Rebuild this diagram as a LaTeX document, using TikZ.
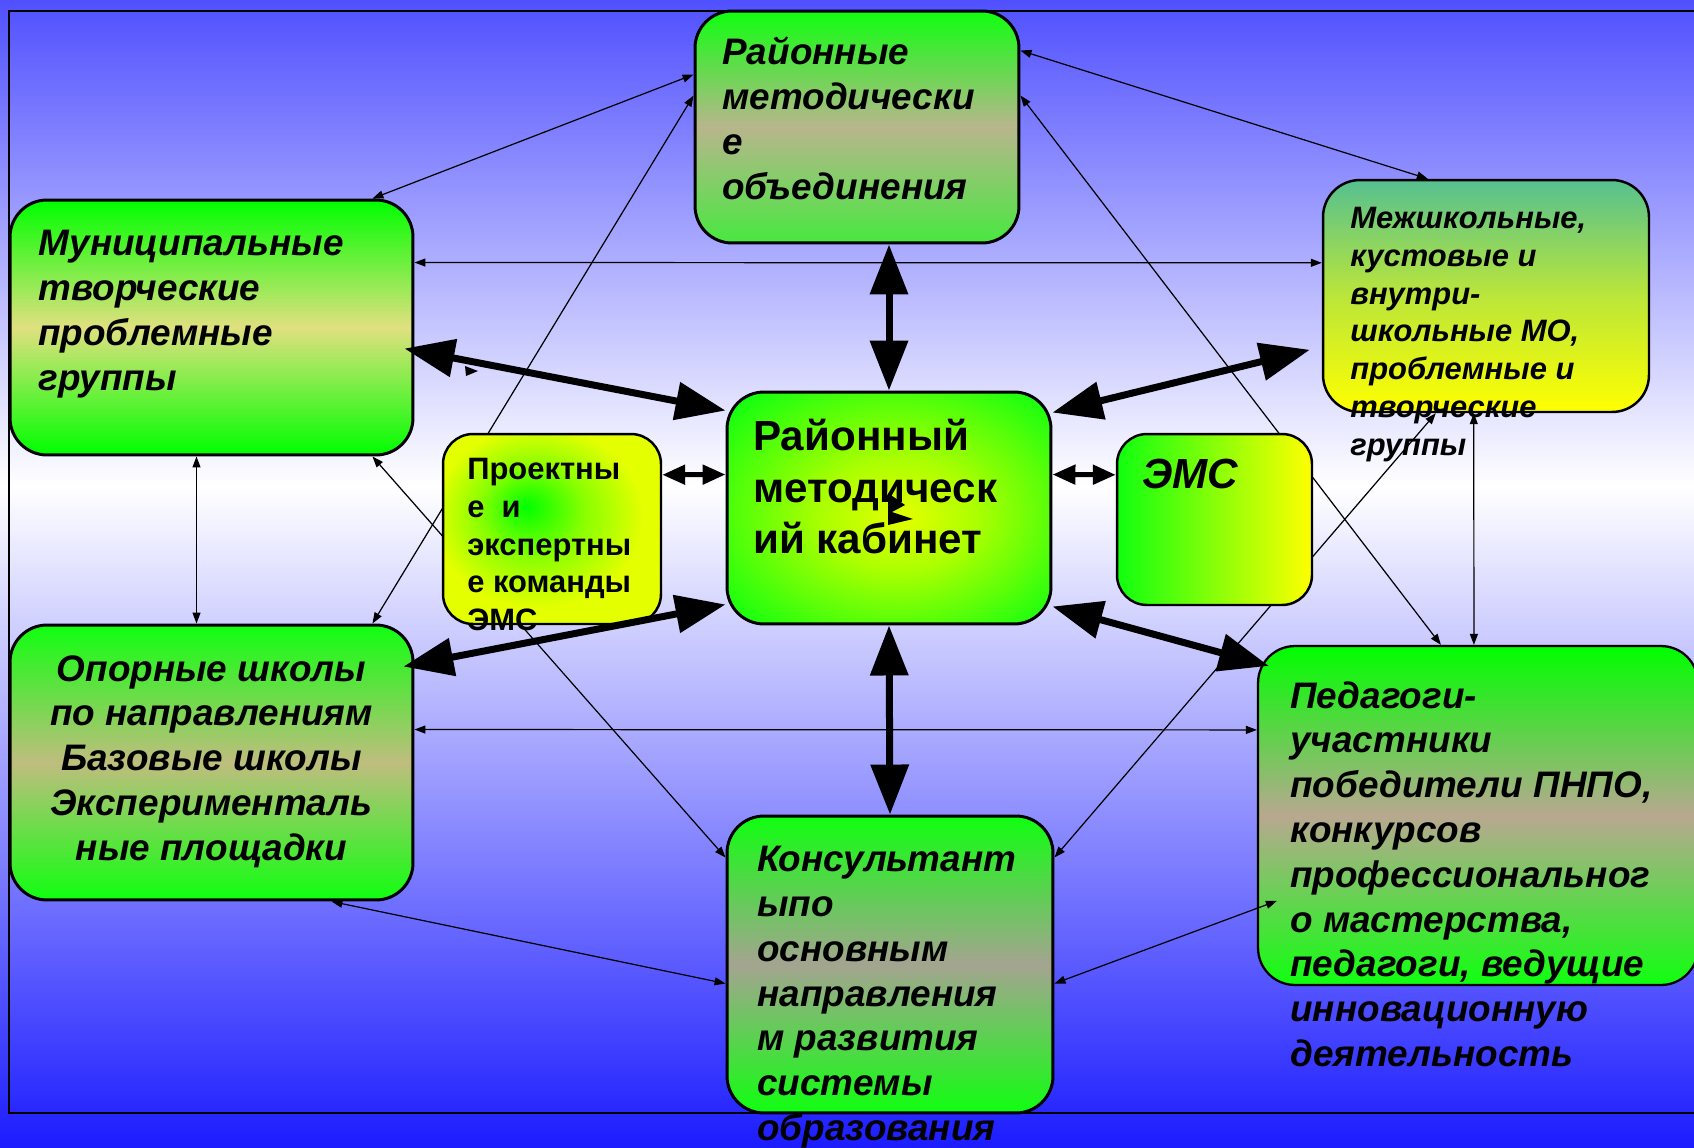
\documentclass[tikz,border=0pt]{standalone}
\usepackage{fontspec}
\setmainfont{Liberation Sans}
\usetikzlibrary{arrows.meta,calc}
\definecolor{bgtop}{HTML}{5050FF}
\definecolor{bgbot}{HTML}{1C1CFF}
\definecolor{brgreen}{HTML}{10FF10}
\definecolor{tanmid}{HTML}{B8B68C}
\definecolor{yelmid}{HTML}{E0E080}
\definecolor{graymid}{HTML}{A4A490}
\definecolor{pedmid}{HTML}{B8A890}
\definecolor{teal}{HTML}{55C090}
\definecolor{lemon}{HTML}{E4FF00}
\definecolor{dimgreen}{HTML}{48E840}
\pgfdeclareradialshading{rmkshade}{\pgfpoint{2bp}{-2bp}}{color(0bp)=(lemon); color(12bp)=(lemon!75!green); color(34bp)=(brgreen); color(50bp)=(brgreen)}
\pgfdeclareradialshading{projshade}{\pgfpoint{-6bp}{6bp}}{color(0bp)=(green); color(12bp)=(lemon!60!green); color(24bp)=(lemon); color(50bp)=(lemon)}
\tikzset{
  box/.style={draw, line width=1.7pt, rounded corners=0.74cm, inner sep=0pt},
  smallbox/.style={draw, line width=1.4pt, rounded corners=0.6cm, inner sep=0pt},
  txt/.style={anchor=north west, inner sep=0pt, align=left,
    font=\fontsize{21}{25.5}\selectfont\bfseries\itshape},
  smalltxt/.style={anchor=north west, inner sep=0pt, align=left,
    font=\fontsize{17.6}{21.5}\selectfont\bfseries},
  link/.style={{Triangle[length=0.22cm,width=0.16cm]}-{Triangle[length=0.22cm,width=0.16cm]}, line width=0.7pt},
  midarrow/.style={{Triangle[length=0.46cm,width=0.38cm]}-{Triangle[length=0.46cm,width=0.38cm]}, line width=0.1cm},
  bigarrow/.style={{Triangle[length=1cm,width=0.74cm]}-{Triangle[length=1cm,width=0.74cm]}, line width=0.14cm}
}
\begin{document}
\begin{tikzpicture}[x=0.02cm,y=-0.02cm]
  \useasboundingbox (0,0) rectangle (1694,1147);
  \clip (0,0) rectangle (1694,1147);
  \fill[top color=bgtop, bottom color=white] (0,0) rectangle (1694,486);
  \fill[top color=white, bottom color=bgbot] (0,486) rectangle (1694,1147);
  \draw[line width=1.2pt] (1720,11) -- (9,11) -- (9,1113) -- (1720,1113);

  \node[box, minimum width=6.48cm, minimum height=4.64cm, top color=brgreen, bottom color=dimgreen, middle color=tanmid] (rmo) at (857,127) {};
  \node[box, minimum width=8.06cm, minimum height=5.1cm, top color=green, bottom color=green, middle color=yelmid] (mun) at (211.5,327.5) {};
  \node[box, minimum width=8.06cm, minimum height=5.5cm, top color=brgreen, bottom color=brgreen, middle color=tanmid!90!yellow] (opor) at (211.5,762.5) {};
  \node[box, minimum width=6.48cm, minimum height=4.64cm, shading=rmkshade] (rmk) at (889,508) {};
  \node[box, line width=1.4pt, minimum width=6.52cm, minimum height=4.64cm, top color=teal, bottom color=yellow, middle color=teal!40!yellow] (mezh) at (1486,296) {};
  \node[box, line width=1.3pt, minimum width=8.8cm, minimum height=6.78cm, top color=green, bottom color=brgreen, middle color=pedmid] (ped) at (1478,815.5) {};
  \node[box, minimum width=6.52cm, minimum height=5.94cm, top color=brgreen, bottom color=brgreen, middle color=graymid] (kons) at (890,964.5) {};

  \draw[link] ($(rmo.north west)+(0,65)$) -- ($(mun.north east)+(-42,0)$);
  \draw[link] ($(rmo.north east)+(0,41)$) -- ($(mezh.north west)+(106,0)$);
  \draw[link] ($(mun.north east)+(0,64)$) -- ($(mezh.north west)+(0,84)$);
  \draw[link] ($(rmo.north west)+(0,86)$) -- ($(opor.north east)+(-42,0)$);
  \draw[link] ($(rmo.north east)+(0,86)$) -- ($(ped.north west)+(184,0)$);
  \draw[link] ($(mun.south east)+(-42,0)$) -- ($(kons.north west)+(0,43)$);
  \draw[link] ($(mezh.south west)+(114,0)$) -- ($(kons.north east)+(0,43)$);
  \draw[link] ($(mezh.south west)+(152,0)$) -- ($(ped.north west)+(217,0)$);
  \draw[link] ($(mun.south)+(-15,0)$) -- ($(opor.north)+(-15,0)$);
  \draw[link] ($(opor.north east)+(0,106)$) -- ($(ped.north west)+(0,85)$);
  \draw[link] ($(opor.south east)+(-83,0)$) -- ($(kons.north west)+(0,169)$);
  \draw[link] ($(kons.north east)+(0,169)$) -- ($(ped.north west)+(20,256)$);

  \node[smallbox, minimum width=4.36cm, minimum height=3.8cm, shading=projshade] (proj) at (552,529) {};
  \node[smallbox, minimum width=3.9cm, minimum height=3.42cm, left color=brgreen, right color=yellow] (ems) at (1214.5,519.5) {};

  \draw[bigarrow] ($(rmo.south)+(32,0)$) -- (rmk.north);
  \draw[bigarrow] (rmk.south) -- (kons.north);
  \draw[bigarrow] ($(mun.north east)+(-10,150)$) -- ($(rmk.north west)+(0,20)$);
  \draw[bigarrow] ($(opor.north east)+(-11,43)$) -- ($(rmk.south west)+(0,-21)$);
  \draw[bigarrow] ($(rmk.north east)+(0,22)$) -- ($(mezh.north west)+(-12,171)$);
  \draw[bigarrow] ($(rmk.south east)+(0,-19)$) -- ($(ped.north west)+(12,21)$);
  \draw[midarrow] ($(proj.north east)+(0,42)$) -- ($(rmk.north west)+(0,84)$);
  \draw[midarrow] ($(rmk.north east)+(0,84)$) -- ($(ems.north west)+(0,42)$);

  \fill (465,366) -- (466,376) -- (478,371) -- cycle;
  \fill (888,493) -- (905,505) -- (892,512) -- (913,519) -- (888,525) -- cycle;

  \node[txt] (rmotext) at (722,37) {Районные\\методически\\е\\объединения};
  \node[txt] (muntext) at (38,230) {Муниципальные\\творческие\\проблемные\\группы};
  \node[txt, anchor=north, align=center] (opotext) at (211.5,655) {Опорные школы\\по направлениям\\Базовые школы\\Эксперименталь\\ные площадки};
  \node[txt, font=\fontsize{24}{29.3}\selectfont\bfseries] (rmktext) at (753,419) {Районный\\методическ\\ий кабинет};
  \node[smalltxt] (projtext) at (467,458) {Проектны\\е~~и\\экспертны\\е команды\\ЭМС};
  \node[txt, font=\fontsize{24}{29.3}\selectfont\bfseries\itshape] (emstext) at (1142,459) {ЭМС};
  \node[smalltxt, font=\fontsize{17.6}{21.5}\selectfont\bfseries\itshape] (mezhtext) at (1350,207) {Межшкольные,\\кустовые и\\внутри-\\школьные МО,\\проблемные и\\творческие\\группы};
  \node[txt] (pedtext) at (1290,681) {Педагоги-\\участники\\победители ПНПО,\\конкурсов\\профессиональног\\о мастерства,\\педагоги, ведущие\\инновационную\\деятельность};
  \node[txt] (konstext) at (757,846) {Консультант\\ыпо\\основным\\направления\\м развития\\системы\\образования};
\end{tikzpicture}
\end{document}
